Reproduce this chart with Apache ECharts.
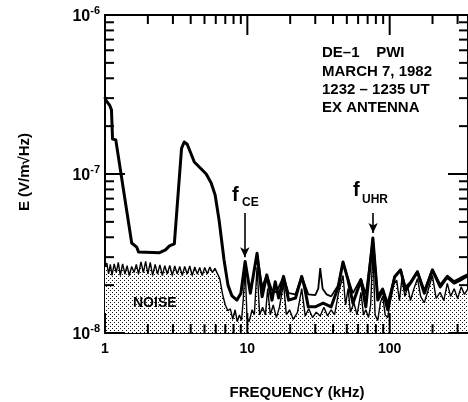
<!DOCTYPE html>
<html><head><meta charset="utf-8">
<script src="https://cdn.jsdelivr.net/npm/echarts@6/dist/echarts.min.js"></script>
<style>html,body{margin:0;padding:0;background:#fff}#c{width:468px;height:402px}</style>
</head><body><div id="c"></div>
<script>
// ---- axis ranges & ticks ----
const X_MIN = 1, X_MAX = 355;
const Y_MIN = 1e-8, Y_MAX = 1e-6;
const xMajorTicks = [1, 10, 100];
const xMinorTicks = [2,3,4,5,6,7,8,9,20,30,40,50,60,70,80,90,200,300];
const yMajorTicks = [1e-8, 1e-7, 1e-6];
const yMinorTicks = [2e-8,3e-8,4e-8,5e-8,6e-8,7e-8,8e-8,9e-8,2e-7,3e-7,4e-7,5e-7,6e-7,7e-7,8e-7,9e-7];

// ---- measured spectrum (thick trace) ----
const spectrumFreq = [1.00,1.01,1.08,1.11,1.13,1.19,1.54,1.67,1.72,2.42,2.66,2.84,3.07,3.45,3.60,3.78,3.97,4.24,4.67,5.14,5.57,5.94,6.33,6.86,7.31,7.80,8.45,9.01,
  9.65,10.5,11.7,12.7,13.7,14.9,15.7,16.6,17.96,19.5,21.8,24.1,25.2,26.8,30.0,34.1,38.8,43.5,47.0,51.0,55.2,62.8,68.0,76.2,
  82.5,89.4,96.9,108.3,119.3,129.2,140,156.7,175.3,199.5,226.6,253.6,283.8,312.6,355];
const spectrumE = [30.5e-8,29.2e-8,27.0e-8,25.3e-8,16.6e-8,16.4e-8,3.68e-8,3.47e-8,3.23e-8,3.20e-8,3.33e-8,3.53e-8,3.63e-8,14.5e-8,15.9e-8,15.4e-8,13.8e-8,11.9e-8,10.9e-8,10.0e-8,8.78e-8,7.38e-8,5.14e-8,2.88e-8,2.00e-8,1.71e-8,1.61e-8,1.78e-8,
  2.82e-8,1.78e-8,3.17e-8,1.69e-8,2.32e-8,1.61e-8,2.10e-8,1.66e-8,2.27e-8,1.61e-8,1.66e-8,2.27e-8,1.95e-8,1.46e-8,1.46e-8,1.54e-8,1.46e-8,1.95e-8,2.80e-8,2.15e-8,1.54e-8,2.15e-8,1.46e-8,3.96e-8,
  1.61e-8,1.86e-8,1.40e-8,2.25e-8,2.49e-8,1.86e-8,2.06e-8,2.42e-8,1.78e-8,2.49e-8,1.95e-8,2.25e-8,2.06e-8,2.15e-8,2.30e-8];

// ---- peak trace (thin upper trace, high frequencies) ----
const peakFreq = [11.7,12.7,13.7,14.9,16.0,17.96,19.5,21.8,24.1,26.8,30.0,31.5,32.5,33.8,36.0,38.8,43.5,47.0,51.0,55.2,62.8,68.0,76.2,82.5,89.4,96.9,108.3,119.3,129.2,140,156.7,175.3,199.5,226.6,253.6,283.8,312.6,355];
const peakE = [3.17e-8,1.95e-8,2.32e-8,1.86e-8,1.80e-8,2.27e-8,1.78e-8,1.75e-8,2.27e-8,1.75e-8,1.73e-8,1.90e-8,2.56e-8,1.90e-8,1.75e-8,1.70e-8,2.00e-8,2.80e-8,2.20e-8,1.78e-8,2.20e-8,1.75e-8,3.96e-8,1.72e-8,1.92e-8,1.55e-8,2.28e-8,2.52e-8,1.95e-8,2.10e-8,2.46e-8,1.86e-8,2.52e-8,2.02e-8,2.30e-8,2.12e-8,2.22e-8,2.35e-8];

// ---- noise level (stippled area) ----
const noiseFreq = [1.00,1.03,1.06,1.09,1.12,1.16,1.20,1.24,1.28,1.33,1.38,1.43,1.48,1.54,1.60,1.66,1.72,1.79,1.86,1.93,2.00,2.08,2.16,2.25,2.34,2.43,2.53,2.63,2.74,2.85,2.97,3.09,3.22,3.35,3.49,3.63,3.78,3.94,4.10,4.27,4.45,4.63,4.82,5.02,5.23,5.45,5.68,5.92,6.10,
  6.4,6.7,7.0,7.3,7.6,7.9,8.2,8.5,8.8,9.1,9.35,9.65,9.95,10.3,10.8,11.2,11.7,12.2,12.8,13.4,13.9,14.5,15.2,16.0,16.8,17.96,18.8,19.8,21.0,22.5,24.1,25.5,27.0,28.7,30.5,32.5,34.5,36.6,38.8,41,43.5,47.0,49,51,53,56,59,62.8,65.5,68.0,71,73.5,76.2,79,82.5,86,89.4,93,96.9,101,106,112,117,122,128,134,140,148,157,165,175,186,199.5,212,226,240,254,268,284,300,318,335,355];
const noiseE = [2.60e-8,2.75e-8,2.35e-8,2.70e-8,2.30e-8,2.72e-8,2.40e-8,2.78e-8,2.30e-8,2.72e-8,2.35e-8,2.65e-8,2.30e-8,2.62e-8,2.40e-8,2.70e-8,2.35e-8,2.80e-8,2.40e-8,2.82e-8,2.35e-8,2.78e-8,2.30e-8,2.70e-8,2.35e-8,2.68e-8,2.30e-8,2.65e-8,2.35e-8,2.66e-8,2.30e-8,2.64e-8,2.35e-8,2.62e-8,2.30e-8,2.62e-8,2.35e-8,2.64e-8,2.30e-8,2.60e-8,2.35e-8,2.58e-8,2.30e-8,2.58e-8,2.35e-8,2.60e-8,2.40e-8,2.55e-8,2.50e-8,
  2.20e-8,1.75e-8,1.50e-8,1.38e-8,1.42e-8,1.22e-8,1.40e-8,1.18e-8,1.30e-8,1.20e-8,1.60e-8,2.55e-8,1.25e-8,1.18e-8,1.40e-8,1.30e-8,2.60e-8,1.30e-8,1.45e-8,1.30e-8,1.90e-8,1.30e-8,1.50e-8,1.25e-8,1.45e-8,2.05e-8,1.30e-8,1.40e-8,1.22e-8,1.35e-8,1.90e-8,1.28e-8,1.42e-8,1.25e-8,1.35e-8,1.28e-8,1.45e-8,1.28e-8,1.40e-8,1.30e-8,1.75e-8,2.30e-8,1.50e-8,1.90e-8,1.35e-8,1.55e-8,1.30e-8,1.80e-8,1.30e-8,1.40e-8,1.25e-8,1.50e-8,3.30e-8,1.30e-8,1.20e-8,1.55e-8,1.70e-8,1.30e-8,1.25e-8,1.60e-8,2.00e-8,2.15e-8,1.60e-8,2.20e-8,1.70e-8,1.95e-8,1.60e-8,1.90e-8,2.20e-8,1.70e-8,1.55e-8,1.85e-8,2.30e-8,1.65e-8,1.80e-8,1.60e-8,2.05e-8,1.70e-8,1.90e-8,1.65e-8,1.95e-8,1.75e-8,1.90e-8];

// ---- annotation markers (data space) ----
const fCE = 9.6, fUHR = 76.5;
const fceArrow = [5.69e-8, 3.0e-8];
const fuhrArrow = [5.69e-8, 4.26e-8];

const zip = (a, b) => a.map((v, i) => [v, b[i]]);

// stipple pattern
const pc = document.createElement('canvas'); pc.width = 4; pc.height = 4;
const g = pc.getContext('2d');
g.fillStyle = '#fff'; g.fillRect(0, 0, 4, 4);
g.fillStyle = '#111'; g.fillRect(0, 0, 1, 1); g.fillRect(2, 2, 1, 1);

const FONT = '"Liberation Sans", Arial, sans-serif';
const blk = '#000';
const MAJOR_LEN = 20, MINOR_LEN = 9;

function xAx(pos, showLabel) {
  return {
    type: 'log', logBase: 10, min: X_MIN, max: X_MAX, position: pos,
    axisLine: { show: true, onZero: false, lineStyle: { color: blk, width: 2 } },
    axisTick: { show: false },
    axisLabel: showLabel ? {
      show: true, customValues: xMajorTicks, margin: 9, color: blk, fontFamily: FONT, fontWeight: 'bold', fontSize: 14,
      formatter: v => String(Math.round(v))
    } : { show: false },
    splitLine: { show: false }, minorTick: { show: false }, minorSplitLine: { show: false }
  };
}
function yAx(pos, showLabel) {
  return {
    type: 'log', logBase: 10, min: Y_MIN, max: Y_MAX, position: pos,
    axisLine: { show: true, onZero: false, lineStyle: { color: blk, width: 2 } },
    axisTick: { show: false },
    axisLabel: showLabel ? {
      show: true, customValues: yMajorTicks, margin: 5, color: blk,
      formatter: v => '{b|10}{s|' + Math.round(Math.log10(v)) + '}',
      rich: {
        b: { fontFamily: FONT, fontWeight: 'bold', fontSize: 16, lineHeight: 20, verticalAlign: 'bottom', color: blk },
        s: { fontFamily: FONT, fontWeight: 'bold', fontSize: 11, lineHeight: 20, verticalAlign: 'top', color: blk }
      }
    } : { show: false },
    splitLine: { show: false }, minorTick: { show: false }, minorSplitLine: { show: false }
  };
}

// inward tick marks drawn through the axes' own scales
const xTickData = xMajorTicks.map(v => [v, Y_MIN, MAJOR_LEN]).concat(xMinorTicks.map(v => [v, Y_MIN, MINOR_LEN]));
const yTickData = yMajorTicks.map(v => [X_MIN, v, MAJOR_LEN]).concat(yMinorTicks.map(v => [X_MIN, v, MINOR_LEN]));
const tickStyle = { stroke: blk, lineWidth: 2 };
function renderXTick(params, api) {
  const v = api.value(0), len = api.value(2);
  const b = api.coord([v, Y_MIN]), t = api.coord([v, Y_MAX]);
  return { type: 'group', children: [
    { type: 'line', shape: { x1: b[0], y1: b[1], x2: b[0], y2: b[1] - len }, style: tickStyle },
    { type: 'line', shape: { x1: t[0], y1: t[1], x2: t[0], y2: t[1] + len }, style: tickStyle }
  ] };
}
function renderYTick(params, api) {
  const v = api.value(1), len = api.value(2);
  const l = api.coord([X_MIN, v]), r = api.coord([X_MAX, v]);
  return { type: 'group', children: [
    { type: 'line', shape: { x1: l[0], y1: l[1], x2: l[0] + len, y2: l[1] }, style: tickStyle },
    { type: 'line', shape: { x1: r[0], y1: r[1], x2: r[0] - len, y2: r[1] }, style: tickStyle }
  ] };
}

const chart = echarts.init(document.getElementById('c'), null, { renderer: 'canvas' });
const txt = (x, y, text, size, align) => ({
  type: 'text', x, y, silent: true, z: 100,
  style: { text, fill: blk, fontFamily: FONT, fontWeight: 'bold', fontSize: size, align: align || 'left', verticalAlign: 'middle' }
});

chart.setOption({
  animation: false,
  backgroundColor: '#fff',
  grid: { left: 105, top: 15, right: -3, bottom: 69, containLabel: false },
  xAxis: [xAx('bottom', true), xAx('top', false)],
  yAxis: [yAx('left', true), yAx('right', false)],
  series: [
    {
      type: 'line', name: 'noise', data: zip(noiseFreq, noiseE), symbol: 'none', z: 2,
      lineStyle: { color: blk, width: 1.4 },
      areaStyle: { origin: 'start', color: { image: pc, repeat: 'repeat' }, opacity: 1 }
    },
    {
      type: 'line', name: 'peak', data: zip(peakFreq, peakE), symbol: 'none', z: 3,
      lineStyle: { color: blk, width: 1.8 }
    },
    {
      type: 'line', name: 'spectrum', data: zip(spectrumFreq, spectrumE), symbol: 'none', z: 4,
      lineStyle: { color: blk, width: 3, join: 'round' },
      markLine: {
        silent: true, symbol: ['none', 'arrow'], symbolSize: [7, 10],
        lineStyle: { color: blk, width: 1.6, type: 'solid' }, label: { show: false },
        data: [
          [{ coord: [fCE, fceArrow[0]] }, { coord: [fCE, fceArrow[1]] }],
          [{ coord: [fUHR, fuhrArrow[0]] }, { coord: [fUHR, fuhrArrow[1]] }]
        ]
      }
    },
    { type: 'custom', name: 'xticks', data: xTickData, renderItem: renderXTick, clip: false, z: 10, silent: true },
    { type: 'custom', name: 'yticks', data: yTickData, renderItem: renderYTick, clip: false, z: 10, silent: true }
  ],
  graphic: [
    txt(322, 53, 'DE\u20131    PWI', 15),
    txt(322, 72, 'MARCH 7, 1982', 15),
    txt(322, 90, '1232 \u2013 1235 UT', 15),
    txt(322, 108, 'EX ANTENNA', 15),
    txt(133, 303, 'NOISE', 14),
    txt(232, 195, 'f', 20),
    txt(242, 203, 'CE', 12),
    txt(353, 190, 'f', 20),
    txt(362, 200, 'UHR', 12),
    txt(297, 393, 'FREQUENCY (kHz)', 15, 'center'),
    { type: 'text', x: 25, y: 172, rotation: Math.PI / 2, silent: true, z: 100,
      style: { text: 'E (V/m\u221AHz)', fill: blk, fontFamily: FONT, fontWeight: 'bold', fontSize: 15, align: 'center', verticalAlign: 'middle' } }
  ]
});
</script></body></html>
